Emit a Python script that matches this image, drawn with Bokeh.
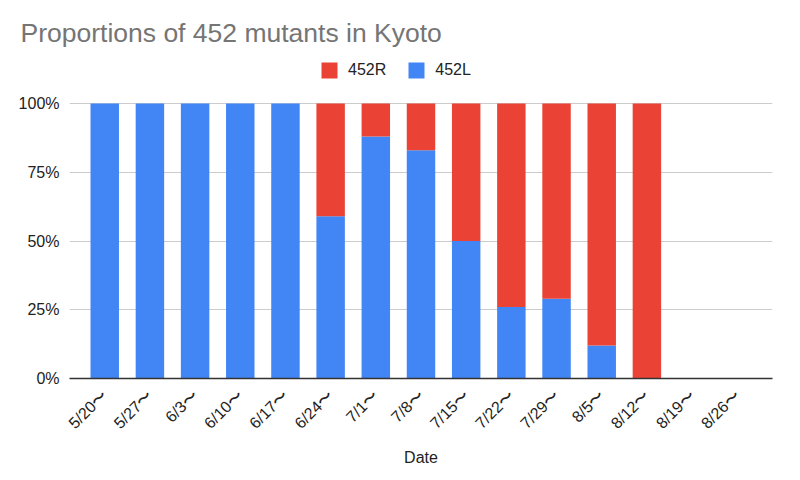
import math
from bokeh.plotting import figure
from bokeh.models import (FactorRange, Range1d, FixedTicker, Legend, LegendItem)
from bokeh.embed import file_html
from bokeh.resources import INLINE

dates = ["5/20〜", "5/27〜", "6/3〜", "6/10〜", "6/17〜", "6/24〜", "7/1〜", "7/8〜",
         "7/15〜", "7/22〜", "7/29〜", "8/5〜", "8/12〜", "8/19〜", "8/26〜"]
share_452L = [100, 100, 100, 100, 100, 59, 88, 83, 50, 26, 29, 12, 0, 0, 0]
share_452R = [0, 0, 0, 0, 0, 41, 12, 17, 50, 74, 71, 88, 100, 0, 0]
y_ticks = [0, 25, 50, 75, 100]
y_tick_labels = ["0%", "25%", "50%", "75%", "100%"]

BLUE = "#4285F4"
RED = "#EA4335"
FONT = "Liberation Sans"

# The frame extends above 100% (without any visible mark there) so that the
# legend, which sits between the title and the 100% grid line, is inside it.
p = figure(width=800, height=480, output_backend="svg", toolbar_location=None,
           x_range=FactorRange(factors=dates, range_padding=0.28, range_padding_units="absolute"),
           y_range=Range1d(0, 119.3),
           min_border_left=69, min_border_right=28, min_border_top=50, min_border_bottom=102)
p.outline_line_color = None

src = {"dates": dates, "452L": share_452L, "452R": share_452R}
rs = p.vbar_stack(["452L", "452R"], x="dates", width=0.63, source=src,
                  color=[BLUE, RED], line_width=0)

# title
p.title.text = "Proportions of 452 mutants in Kyoto"
p.title.text_font = FONT
p.title.text_font_size = "26.5px"
p.title.text_font_style = "normal"
p.title.text_color = "#757575"
p.title.align = "left"
p.title.offset = -49
p.title.standoff = 5

# axes
p.yaxis.ticker = FixedTicker(ticks=y_ticks)
p.yaxis.major_label_overrides = {t: l for t, l in zip(y_ticks, y_tick_labels)}
p.yaxis.axis_line_color = None
p.yaxis.major_tick_line_color = None
p.yaxis.major_tick_out = 0
p.yaxis.minor_tick_line_color = None
p.yaxis.major_label_text_font = FONT
p.yaxis.major_label_text_font_size = "16px"
p.yaxis.major_label_text_color = "#222222"
p.yaxis.major_label_standoff = 10

p.xaxis.axis_line_color = "#333333"
p.xaxis.axis_line_width = 1.5
p.xaxis.major_tick_line_color = None
p.xaxis.major_tick_out = 0
p.xaxis.minor_tick_line_color = None
p.xaxis.major_label_orientation = math.pi / 4
p.xaxis.major_label_standoff = 14
p.xaxis.major_label_text_font = FONT
p.xaxis.major_label_text_font_size = "16px"
p.xaxis.major_label_text_color = "#222222"
p.xaxis.axis_label = "Date"
p.xaxis.axis_label_standoff = 8
p.xaxis.axis_label_text_font = FONT
p.xaxis.axis_label_text_font_size = "16px"
p.xaxis.axis_label_text_font_style = "normal"
p.xaxis.axis_label_text_color = "#222222"

p.xgrid.grid_line_color = None
p.ygrid.grid_line_color = "#cccccc"
p.ygrid.grid_line_width = 1

legend = Legend(items=[LegendItem(label="452R", renderers=[rs[1]]),
                       LegendItem(label="452L", renderers=[rs[0]])],
                orientation="horizontal", location=(250, 298),
                glyph_width=20, glyph_height=20, label_standoff=9, spacing=20,
                padding=0, margin=0, border_line_color=None, background_fill_alpha=0,
                label_text_font=FONT, label_text_font_size="16px", label_text_color="#222222",
                label_height=20)
p.add_layout(legend, "center")

open("out.html", "w").write(file_html(p, INLINE))
